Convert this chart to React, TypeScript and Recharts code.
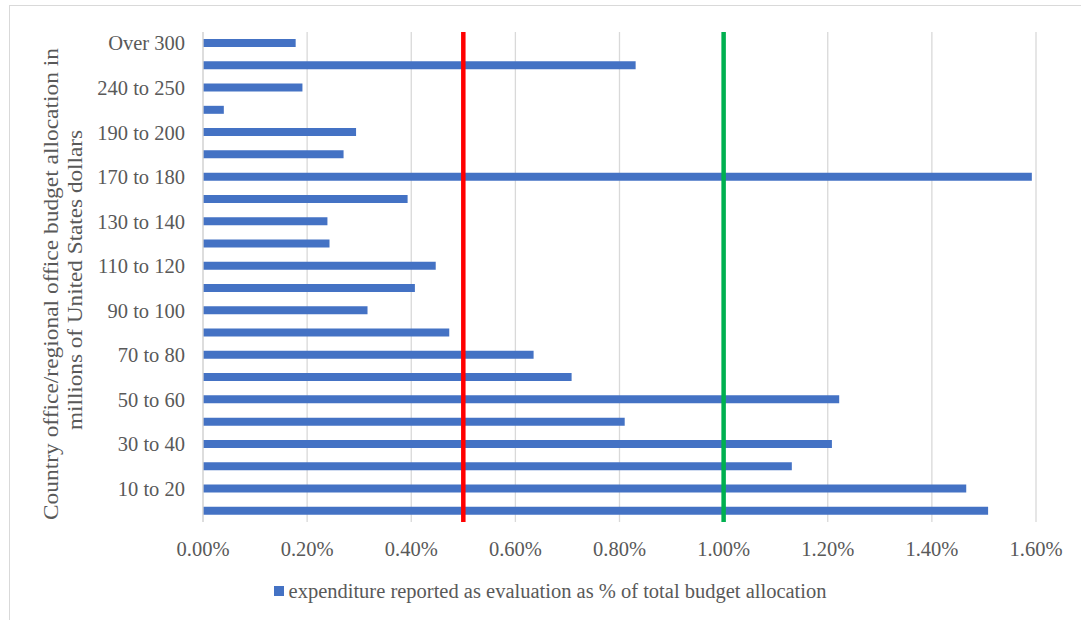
import React from "react";
import {
  BarChart,
  Bar,
  XAxis,
  YAxis,
  CartesianGrid,
  ReferenceLine,
  Legend,
} from "recharts";

// budget bands, top of chart first (only every other label is shown, as in the source)
const bands = [
  "Over 300",
  "260 to 270",
  "240 to 250",
  "210 to 220",
  "190 to 200",
  "180 to 190",
  "170 to 180",
  "140 to 150",
  "130 to 140",
  "120 to 130",
  "110 to 120",
  "100 to 110",
  "90 to 100",
  "80 to 90",
  "70 to 80",
  "60 to 70",
  "50 to 60",
  "40 to 50",
  "30 to 40",
  "20 to 30",
  "10 to 20",
  "0 to 10",
];

// evaluation expenditure, % of total budget allocation
const evalShare = [
  0.178, 0.831, 0.191, 0.04, 0.294, 0.27, 1.592, 0.393, 0.239, 0.243, 0.447,
  0.407, 0.316, 0.473, 0.635, 0.708, 1.222, 0.81, 1.208, 1.131, 1.466, 1.508,
];

const xTicks = [0, 0.2, 0.4, 0.6, 0.8, 1.0, 1.2, 1.4, 1.6];

const lowerMark = 0.5;
const upperMark = 1.0;

const seriesName =
  "expenditure reported as evaluation as % of total budget allocation";

const titleLines = [
  "Country office/regional office budget allocation in",
  "millions of United States dollars",
];

const data = bands.map((band, i) => ({ band, share: evalShare[i] }));

const FONT = "Liberation Serif";
const TEXT = "#595959";
const GRID = "#d9d9d9";
const BLUE = "#4472C4";

function YTitle(props: any) {
  const vb = props.viewBox || { x: 0, y: 0, height: 0 };
  const mid = vb.y + vb.height / 2;
  // the source title is drawn stretched along its length, hence textLength
  const lines = [
    { x: vb.x + 58, y: mid + 7, len: 472 },
    { x: vb.x + 82, y: mid + 3, len: 300 },
  ];
  return (
    <g>
      {lines.map((l, i) => (
        <text
          key={i}
          x={l.x}
          y={l.y}
          transform={`rotate(-90, ${l.x}, ${l.y})`}
          textAnchor="middle"
          fill={TEXT}
          fontSize={20}
          fontFamily={FONT}
          textLength={l.len}
          lengthAdjust="spacingAndGlyphs"
        >
          {titleLines[i]}
        </text>
      ))}
    </g>
  );
}

function LegendBox() {
  return (
    <div
      style={{
        height: 26,
        display: "flex",
        alignItems: "center",
        justifyContent: "center",
        fontFamily: FONT,
        fontSize: 20.5,
        color: TEXT,
      }}
    >
      <span
        style={{
          width: 10,
          height: 10,
          background: BLUE,
          display: "inline-block",
          marginRight: 5,
        }}
      />
      <span>{seriesName}</span>
    </div>
  );
}

export default function App() {
  return (
    <div
      style={{
        position: "absolute",
        left: 0,
        top: 0,
        width: 1081,
        height: 620,
        overflow: "hidden",
        background: "#fff",
      }}
    >
      <div
        style={{
          position: "absolute",
          left: 9,
          top: 5,
          width: 1100,
          height: 700,
          border: `1.5px solid ${GRID}`,
        }}
      />
      <div style={{ position: "absolute", left: 0, top: 0 }}>
        <BarChart
          width={1081}
          height={620}
          data={data}
          layout="vertical"
          margin={{ top: 32, right: 45, left: 0, bottom: 16 }}
        >
          <CartesianGrid horizontal={false} stroke={GRID} strokeWidth={1.3} />
          <XAxis
            type="number"
            domain={[0, 1.6]}
            ticks={xTicks}
            tickFormatter={(v: number) => `${v.toFixed(2)}%`}
            axisLine={false}
            tickLine={false}
            tickSize={0}
            tickMargin={19}
            height={56}
            interval={0}
            tick={{ fill: TEXT, fontSize: 20.5, fontFamily: FONT }}
          />
          <YAxis
            type="category"
            dataKey="band"
            width={203}
            interval={1}
            axisLine={{ stroke: GRID, strokeWidth: 1.3 }}
            tickLine={false}
            tickSize={0}
            tickMargin={18}
            tick={{ fill: TEXT, fontSize: 20.5, fontFamily: FONT }}
            label={<YTitle />}
          />
          <Legend
            verticalAlign="bottom"
            wrapperStyle={{ left: 0, width: 1100 }}
            content={() => <LegendBox />}
          />
          <Bar
            dataKey="share"
            name={seriesName}
            fill={BLUE}
            barSize={8}
            isAnimationActive={false}
          />
          <ReferenceLine x={lowerMark} stroke="#FF0000" strokeWidth={4.5} />
          <ReferenceLine x={upperMark} stroke="#00B050" strokeWidth={4.5} />
        </BarChart>
      </div>
    </div>
  );
}
